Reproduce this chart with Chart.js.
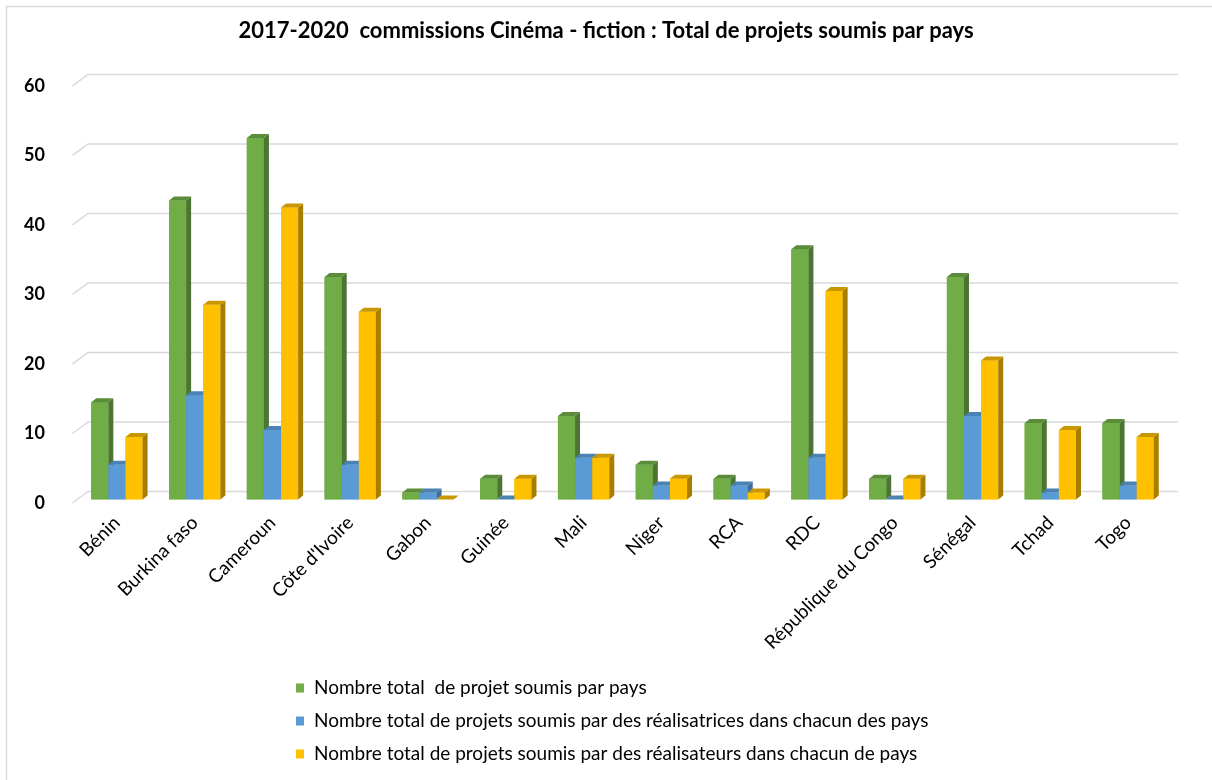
<!DOCTYPE html>
<html>
<head>
<meta charset="utf-8">
<script src="https://cdn.jsdelivr.net/npm/chart.js@4"></script>
<style>
  html, body { margin: 0; padding: 0; background: #ffffff; }
  #wrap { position: relative; width: 1212px; height: 780px; }
</style>
</head>
<body>
<div id="wrap"><canvas id="c" width="1212" height="780"></canvas></div>
<script>
const categories = ["Bénin", "Burkina faso", "Cameroun", "Côte d'Ivoire", "Gabon", "Guinée", "Mali", "Niger", "RCA", "RDC", "République du Congo", "Sénégal", "Tchad", "Togo"];
const totalProjets = [14, 43, 52, 32, 1, 3, 12, 5, 3, 36, 3, 32, 11, 11];
const projetsRealisatrices = [5, 15, 10, 5, 1, 0, 6, 2, 2, 6, 0, 12, 1, 2];
const projetsRealisateurs = [9, 28, 42, 27, 0, 3, 6, 3, 1, 30, 3, 20, 10, 9];
const seriesLabels = [
  "Nombre total  de projet soumis par pays",
  "Nombre total de projets soumis par des réalisatrices dans chacun des pays",
  "Nombre total de projets soumis par des réalisateurs dans chacun de pays"
];
const yTicks = [0, 10, 20, 30, 40, 50, 60];
const chartTitle = "2017-2020  commissions Cinéma - fiction : Total de projets soumis par pays";

const FONT = "Lato, 'Open Sans', sans-serif";
const palette = [
  { front: "#70AD47", side: "#4B7530", top: "#5A8C39" },
  { front: "#5B9BD5", side: "#3F6F9C", top: "#4A82B4" },
  { front: "#FFC000", side: "#A87E00", top: "#C99800" }
];
const DX = 5, DY = 4;

const threeD = {
  id: "threeD",
  beforeDatasetsDraw(chart) {
    const ctx = chart.ctx;
    const y = chart.scales.y;
    const area = chart.chartArea;
    ctx.save();
    ctx.strokeStyle = "#d9d9d9";
    ctx.lineWidth = 1.5;
    ctx.strokeRect(6.5, 6.5, 1220, 800);
    ctx.strokeStyle = "#d9d9d9";
    ctx.lineWidth = 1.5;
    yTicks.forEach(v => {
      const py = y.getPixelForValue(v);
      ctx.beginPath();
      ctx.moveTo(area.left - 5.5, py + 3.5);
      ctx.lineTo(area.left + 10, py - 8);
      ctx.lineTo(area.right + 11, py - 8);
      ctx.stroke();
    });
    ctx.restore();
  },
  afterDatasetsDraw(chart) {
    const ctx = chart.ctx;
    const metas = [0, 1, 2].map(i => chart.getDatasetMeta(i));
    ctx.save();
    for (let j = 0; j < categories.length; j++) {
      for (let i = 0; i < 3; i++) {
        const el = metas[i].data[j];
        const c = palette[i];
        const L = el.x - el.width / 2, R = el.x + el.width / 2;
        const T = Math.min(el.y, el.base), B = Math.max(el.y, el.base);
        ctx.fillStyle = c.front;
        ctx.fillRect(L, T, R - L, B - T);
        ctx.fillStyle = c.side;
        ctx.beginPath();
        ctx.moveTo(R, T); ctx.lineTo(R + DX, T - DY); ctx.lineTo(R + DX, B - DY); ctx.lineTo(R, B);
        ctx.closePath(); ctx.fill();
        ctx.fillStyle = c.top;
        ctx.beginPath();
        ctx.moveTo(L, T); ctx.lineTo(L + DX, T - DY); ctx.lineTo(R + DX, T - DY); ctx.lineTo(R, T);
        ctx.closePath(); ctx.fill();
      }
    }
    ctx.restore();
  },
  afterDraw(chart) {
    const ctx = chart.ctx;
    ctx.save();
    const rows = [688, 721, 754];
    ctx.font = "19px " + FONT;
    ctx.textBaseline = "middle";
    ctx.textAlign = "left";
    chart.data.datasets.forEach((ds, i) => {
      ctx.fillStyle = ds.backgroundColor;
      ctx.fillRect(296, rows[i] - 4.5, 8, 9);
      ctx.fillStyle = "#000000";
      ctx.fillText(ds.label, 314, rows[i]);
    });
    ctx.restore();
  }
};

new Chart(document.getElementById("c"), {
  type: "bar",
  data: {
    labels: categories,
    datasets: [
      { label: seriesLabels[0], data: totalProjets, backgroundColor: palette[0].front },
      { label: seriesLabels[1], data: projetsRealisatrices, backgroundColor: palette[1].front },
      { label: seriesLabels[2], data: projetsRealisateurs, backgroundColor: palette[2].front }
    ]
  },
  options: {
    responsive: false,
    animation: false,
    devicePixelRatio: 1,
    layout: { padding: { left: 0, right: 0, top: 0, bottom: 0 } },
    datasets: { bar: { categoryPercentage: 0.66, barPercentage: 1.0 } },
    plugins: {
      legend: { display: false },
      tooltip: { enabled: false },
      title: {
        display: true,
        text: chartTitle,
        color: "#000000",
        font: { family: FONT, size: 22, weight: "bold" },
        padding: { top: 18, bottom: 38 }
      }
    },
    scales: {
      x: {
        grid: { display: false },
        border: { display: false },
        ticks: {
          autoSkip: false,
          maxRotation: 45,
          minRotation: 45,
          color: "#000000",
          font: { family: FONT, size: 19 },
          padding: 4
        },
        afterFit(s) { s.height = 280.5; }
      },
      y: {
        min: 0,
        max: 60,
        grid: { display: false },
        border: { display: false },
        ticks: {
          stepSize: 10,
          color: "#000000",
          labelOffset: 3.5,
          padding: 25,
          font: { family: FONT, size: 18, weight: "bold" }
        },
        afterFit(s) { s.width = 78; }
      },
      yRightSpace: {
        position: "right",
        min: 0,
        max: 60,
        grid: { display: false },
        border: { display: false },
        ticks: { display: false },
        afterFit(s) { s.width = 45; }
      }
    }
  },
  plugins: [threeD]
});
</script>
</body>
</html>
